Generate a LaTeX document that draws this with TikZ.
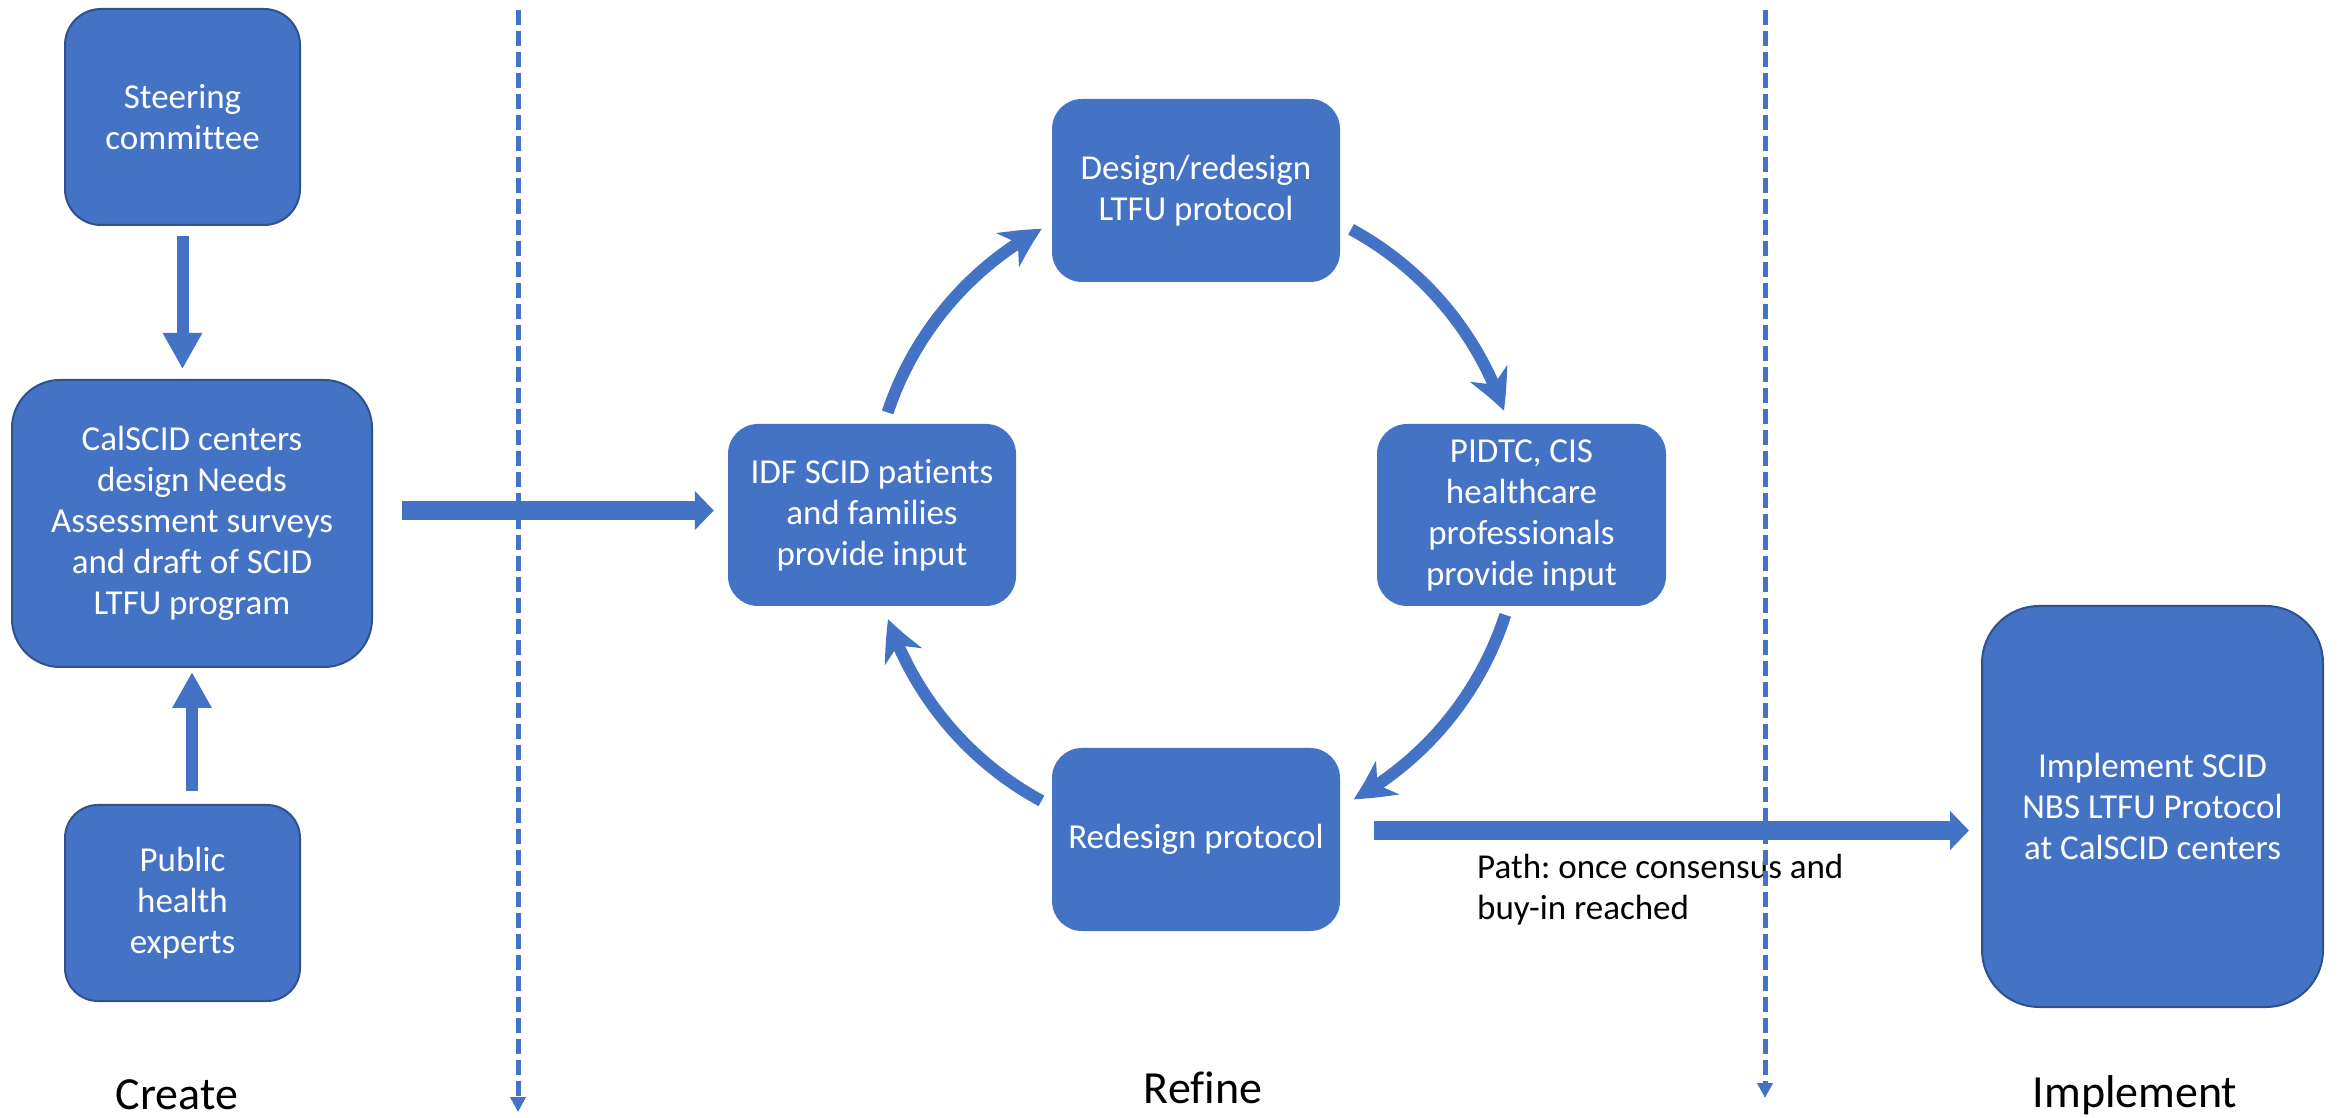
\documentclass[tikz,border=0pt]{standalone}
\usepackage{fontspec}
\setmainfont{Carlito}[Ligatures={NoCommon}]
\usetikzlibrary{arrows.meta,bending,calc}
\definecolor{obl}{HTML}{4472C4}
\definecolor{obd}{HTML}{2F528F}
\frenchspacing
\begin{document}
\begin{tikzpicture}[x=1pt,y=1pt,
  box/.style={fill=obl, rounded corners=#1, text=white, align=center, inner sep=0pt,
              font=\fontsize{35}{41}\selectfont},
  box/.default=30pt,
  bordered/.style={draw=obd, line width=2pt},
  vblk/.style={draw=obl, line width=12pt, -{Triangle[length=36pt,width=37pt]}},
  hblk/.style={draw=obl, line width=19pt, -{Triangle[length=19pt,width=38pt]}},
  cycarr/.style={draw=obl, line width=12pt, -{Stealth[length=40pt,width=40pt,inset=12pt,bend]}},
  divider/.style={draw=obl, line width=5pt, dash pattern=on 15pt off 6pt, -{Triangle[length=15pt,width=15pt]}},
  lbl/.style={font=\fontsize{46}{55}\selectfont, inner sep=0pt},
  note/.style={font=\fontsize{35}{41}\selectfont, align=left, inner sep=0pt}
]
\fill[white] (0,0) rectangle (2342,1117);
\useasboundingbox (0,0) rectangle (2342,1117);

% nodes
\node[box=36pt, bordered, minimum width=235pt, minimum height=216pt] (steer) at (182.5,1000) {Steering\\committee};
\node[box=48pt, bordered, minimum width=360pt, minimum height=287pt] (cal) at (192,593.5) {CalSCID centers\\design Needs\\Assessment surveys\\and draft of SCID\\LTFU program};
\node[box=33pt, bordered, minimum width=235pt, minimum height=196pt] (pub) at (182.5,214) {Public\\health\\experts};
\node[box, minimum width=288pt, minimum height=182pt] (idf) at (872,602) {IDF SCID patients\\and families\\provide input};
\node[box, minimum width=288pt, minimum height=183pt] (design) at (1196,926.5) {Design/redesign\\LTFU protocol};
\node[box, minimum width=289pt, minimum height=182pt] (pidtc) at (1521.5,602) {PIDTC, CIS\\healthcare\\professionals\\provide input};
\node[box, minimum width=288pt, minimum height=183pt] (redesign) at (1196,277.5) {Redesign protocol};
\node[box=57pt, bordered, minimum width=341pt, minimum height=401pt] (impl) at (2152.5,310.5) {Implement SCID\\NBS LTFU Protocol\\at CalSCID centers};

% phase labels
\node[lbl, anchor=base] (create) at (177,8) {Create};
\node[lbl, anchor=base] (refine) at (1203,14) {Refine};
\node[lbl, anchor=base] (implement) at (2135,10) {Implement};
\node[note, anchor=base west] (path) at (1477,198) {Path: once consensus and\\buy-in reached};

% dividers
\coordinate (d1top) at (518,1107);
\coordinate (d1bot) at (518,5);
\coordinate (d2top) at (1765,1107);
\coordinate (d2bot) at (1765,19);
\draw[divider] (d1top) -- (d1bot);
\draw[divider] (d2top) -- (d2bot);

% straight arrows
\draw[vblk] ([yshift=-10pt]steer.south) -- ([yshift=10pt]steer.south |- cal.north);
\draw[vblk] ([yshift=13pt]cal.south |- pub.north) -- ([yshift=-4pt]cal.south);
\draw[hblk] ($(cal.east)+(29,13)$) -- ($(idf.west)+(-14,4.5)$);
\draw[hblk] ($(redesign.east)+(34,9)$) -- ($(impl.west)+(-12,-24)$);

% cycle arrows
\coordinate (cyc) at (design |- idf);
\draw[cycarr] ($(cyc)+(161.6:325)$) arc[start angle=161.6, end angle=118.3, radius=325];
\draw[cycarr] ($(cyc)+(61.5:325)$) arc[start angle=61.5, end angle=18.7, radius=325];
\draw[cycarr] ($(cyc)+(-17.9:325)$) arc[start angle=-17.9, end angle=-61, radius=325];
\draw[cycarr] ($(cyc)+(241.6:325)$) arc[start angle=241.6, end angle=198.7, radius=325];
\end{tikzpicture}
\end{document}
